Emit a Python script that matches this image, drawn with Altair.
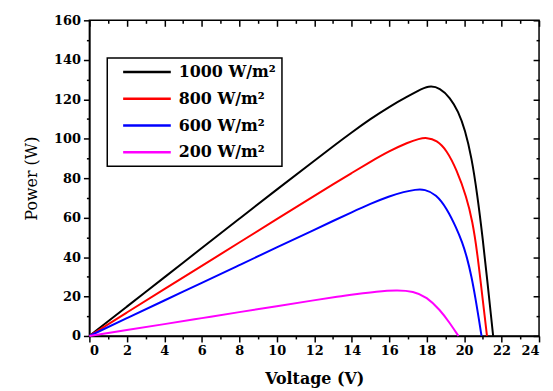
import altair as alt
import pandas as pd

series = ["1000 W/m²", "800 W/m²", "600 W/m²", "200 W/m²"]
colors = ["#000000", "#ff0000", "#0000ff", "#ff00ff"]

v1000 = [0, 2, 4, 6, 8, 10, 12, 13, 14, 15, 16, 17, 17.5, 18.1, 18.72, 19.25, 19.69, 20.05, 20.4, 20.7, 21.0, 21.25, 21.45, 21.55]
p1000 = [0, 14.9, 29.7, 44.6, 59.4, 74.2, 88.8, 96.1, 103.2, 110.0, 116.2, 121.5, 124.0, 127.0, 125.8, 120.8, 113.9, 104.5, 90.5, 72.0, 49.0, 27.0, 9.0, 0]

v800 = [0, 2, 4, 6, 8, 10, 12, 13, 14, 15, 16, 17, 17.6, 18.0, 18.54, 19.07, 19.6, 20.13, 20.45, 20.7, 20.95, 21.1, 21.22]
p800 = [0, 11.9, 23.7, 35.5, 47.4, 59.2, 71.0, 76.9, 82.6, 88.3, 93.7, 98.1, 100.0, 100.6, 99.2, 94.2, 84.3, 70.5, 58.0, 42.5, 22.0, 10.0, 0]

v600 = [0, 2, 4, 6, 8, 10, 12, 13, 14, 15, 16, 16.8, 17.4, 17.9, 18.5, 19.07, 19.6, 19.9, 20.15, 20.4, 20.6, 20.8, 20.93]
p600 = [0, 9.0, 18.0, 26.9, 35.9, 44.9, 53.8, 58.3, 62.7, 67.0, 70.8, 73.1, 74.2, 74.4, 71.8, 64.8, 54.5, 47.5, 40.0, 30.0, 19.5, 8.0, 0]

v200 = [0, 2, 4, 6, 8, 10, 12, 13.25, 14.3, 15.3, 16.4, 17.3, 18.0, 18.72, 19.25, 19.7]
p200 = [0, 3.0, 6.0, 9.05, 12.1, 15.1, 18.1, 20.0, 21.3, 22.5, 23.3, 22.7, 19.8, 13.2, 6.4, 0]

x_major = list(range(0, 25, 2))
x_minor = list(range(1, 24, 2))
y_major = list(range(0, 161, 20))
y_minor = list(range(10, 160, 20))

rows = []
for name, vs, ps in zip(series, [v1000, v800, v600, v200], [p1000, p800, p600, p200]):
    for i, (v, p) in enumerate(zip(vs, ps)):
        rows.append({"series": name, "V": v, "P": p, "order": i})
df = pd.DataFrame(rows)

FONT = "DejaVu Serif"
xscale = alt.Scale(domain=[0, 24], nice=False, zero=False)
yscale = alt.Scale(domain=[0, 160], nice=False)

lines = alt.Chart(df).mark_line(strokeWidth=2, interpolate="basis").encode(
    x=alt.X("V:Q", scale=xscale, axis=alt.Axis(
        values=x_major, title="Voltage (V)", grid=False, tickSize=6, tickWidth=1.5,
        domainColor="black", domainWidth=1.5, tickColor="black",
        labelFont=FONT, labelFontSize=13, labelFontWeight="bold", labelColor="black",
        labelPadding=3, titleFont=FONT, titleFontSize=16, titleFontWeight="bold",
        titleColor="black", titlePadding=13)),
    y=alt.Y("P:Q", scale=yscale, axis=alt.Axis(
        values=y_major, title="Power (W)", grid=False, tickSize=6, tickWidth=1.5,
        domainColor="black", domainWidth=1.5, tickColor="black",
        labelFont=FONT, labelFontSize=13, labelFontWeight="bold", labelColor="black",
        labelPadding=3, titleFont=FONT, titleFontSize=16, titleFontWeight="normal",
        titleColor="black", titlePadding=14)),
    color=alt.Color("series:N", sort=series,
                    scale=alt.Scale(domain=series, range=colors),
                    legend=alt.Legend(
                        title=None, orient="none", legendX=18, legendY=38,
                        strokeColor="black", fillColor="white",
                        padding=6, symbolType="M-4,0H4", symbolSize=144,
                        symbolStrokeWidth=2.5, symbolOffset=26,
                        labelFont=FONT, labelFontSize=16,
                        labelFontWeight="bold", labelColor="black", rowPadding=11,
                        labelOffset=24)),
    order="order:Q",
)


def tick_layer(xorient, xvals, xsize, xoff, yorient, yvals, ysize, yoff):
    return alt.Chart(df).mark_point(opacity=0).encode(
        x=alt.X("V:Q", scale=xscale, axis=alt.Axis(
            orient=xorient, values=xvals, labels=False, title=None, grid=False,
            domain=False, tickSize=xsize, tickWidth=1.5, tickColor="black", offset=xoff)),
        y=alt.Y("P:Q", scale=yscale, axis=alt.Axis(
            orient=yorient, values=yvals, labels=False, title=None, grid=False,
            domain=False, tickSize=ysize, tickWidth=1.5, tickColor="black", offset=yoff)),
    )


minor_out = tick_layer("bottom", x_minor, 3, 0, "left", y_minor, 3, 0)
major_in = tick_layer("top", x_major, 6, -6, "right", y_major, 6, -6)
minor_in = tick_layer("top", x_minor, 3, -3, "right", y_minor, 3, -3)

chart = alt.layer(lines, minor_out, major_in, minor_in).resolve_axis(
    x="independent", y="independent"
).properties(
    width=453, height=318,
    padding={"left": 15, "top": 5, "right": 5, "bottom": 0},
).configure_view(stroke="black", strokeWidth=1.5).configure_legend(strokeWidth=1.5)

chart.save("out.html", embed_options={"renderer": "svg", "actions": False})
